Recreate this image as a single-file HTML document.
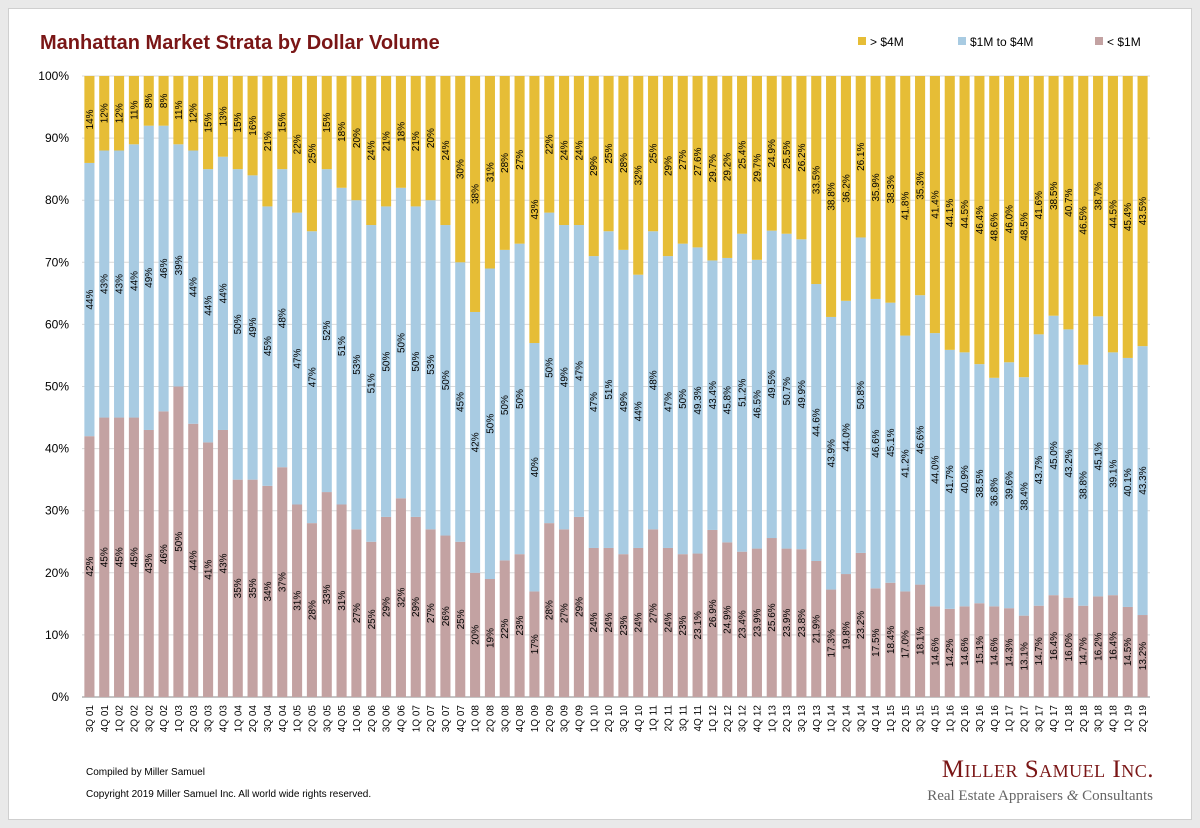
<!DOCTYPE html>
<html><head><meta charset="utf-8">
<style>
html,body{margin:0;padding:0;background:#e9e9e9;}
#card{position:absolute;left:8px;top:8px;width:1182px;height:810px;background:#fff;border:1px solid #cfcfcf;}
svg{position:absolute;left:0;top:0;}
text{font-family:"Liberation Sans",Arial,sans-serif;}
</style></head>
<body>
<div id="card"></div>
<svg id="chart" width="1200" height="828">
<text x="40" y="49" font-size="20" font-weight="bold" fill="#7a1616">Manhattan Market Strata by Dollar Volume</text>
<g>
<rect x="858" y="37" width="8" height="8" fill="#e6bd36"/>
<text x="870" y="46" font-size="12">&gt; $4M</text>
<rect x="958" y="37" width="8" height="8" fill="#a8cbe2"/>
<text x="970" y="46" font-size="12">$1M to $4M</text>
<rect x="1095" y="37" width="8" height="8" fill="#c3a2a2"/>
<text x="1107" y="46" font-size="12">&lt; $1M</text>
</g>
<g id="grid"></g><g id="bars"></g><g id="labels"></g><g id="axes"></g>
<text x="86" y="775" font-size="10">Compiled by Miller Samuel</text>
<text x="86" y="797" font-size="10">Copyright 2019 Miller Samuel Inc.  All world wide rights reserved.</text>
<text x="1154" y="777" text-anchor="end" font-size="25" fill="#7a1616" style="font-family:'Liberation Serif',serif;font-variant:small-caps;letter-spacing:0.5px">Miller Samuel Inc.</text>
<text x="1153" y="800" text-anchor="end" font-size="15" fill="#666" style="font-family:'Liberation Serif',serif">Real Estate Appraisers <tspan font-style="italic">&amp;</tspan> Consultants</text>
</svg>
<script>
const quarters=["3Q 01","4Q 01","1Q 02","2Q 02","3Q 02","4Q 02","1Q 03","2Q 03","3Q 03","4Q 03","1Q 04","2Q 04","3Q 04","4Q 04","1Q 05","2Q 05","3Q 05","4Q 05","1Q 06","2Q 06","3Q 06","4Q 06","1Q 07","2Q 07","3Q 07","4Q 07","1Q 08","2Q 08","3Q 08","4Q 08","1Q 09","2Q 09","3Q 09","4Q 09","1Q 10","2Q 10","3Q 10","4Q 10","1Q 11","2Q 11","3Q 11","4Q 11","1Q 12","2Q 12","3Q 12","4Q 12","1Q 13","2Q 13","3Q 13","4Q 13","1Q 14","2Q 14","3Q 14","4Q 14","1Q 15","2Q 15","3Q 15","4Q 15","1Q 16","2Q 16","3Q 16","4Q 16","1Q 17","2Q 17","3Q 17","4Q 17","1Q 18","2Q 18","3Q 18","4Q 18","1Q 19","2Q 19"];
const under1m=[42,45,45,45,43,46,50,44,41,43,35,35,34,37,31,28,33,31,27,25,29,32,29,27,26,25,20,19,22,23,17,28,27,29,24,24,23,24,27,24,23,23.1,26.9,24.9,23.4,23.9,25.6,23.9,23.8,21.9,17.3,19.8,23.2,17.5,18.4,17.0,18.1,14.6,14.2,14.6,15.1,14.6,14.3,13.1,14.7,16.4,16.0,14.7,16.2,16.4,14.5,13.2];
const mid1to4m=[44,43,43,44,49,46,39,44,44,44,50,49,45,48,47,47,52,51,53,51,50,50,50,53,50,45,42,50,50,50,40,50,49,47,47,51,49,44,48,47,50,49.3,43.4,45.8,51.2,46.5,49.5,50.7,49.9,44.6,43.9,44.0,50.8,46.6,45.1,41.2,46.6,44.0,41.7,40.9,38.5,36.8,39.6,38.4,43.7,45.0,43.2,38.8,45.1,39.1,40.1,43.3];
const over4m=[14,12,12,11,8,8,11,12,15,13,15,16,21,15,22,25,15,18,20,24,21,18,21,20,24,30,38,31,28,27,43,22,24,24,29,25,28,32,25,29,27,27.6,29.7,29.2,25.4,29.7,24.9,25.5,26.2,33.5,38.8,36.2,26.1,35.9,38.3,41.8,35.3,41.4,44.1,44.5,46.4,48.6,46.0,48.5,41.6,38.5,40.7,46.5,38.7,44.5,45.4,43.5];
const yTicks=[0,10,20,30,40,50,60,70,80,90,100];
const decimalFrom=41;

const NS="http://www.w3.org/2000/svg";
const X0=82,X1=1150,Y0=697,Y1=76;
const step=(X1-X0)/quarters.length, bw=step*0.68;
const y=v=>Y0-(v/100)*(Y0-Y1);
const x=i=>X0+i*step+(step-bw)/2;
function mk(t,a,p){const e=document.createElementNS(NS,t);for(const k in a)e.setAttribute(k,a[k]);p.appendChild(e);return e;}
const grid=document.getElementById('grid'),bars=document.getElementById('bars'),labels=document.getElementById('labels'),axes=document.getElementById('axes');
yTicks.forEach(t=>{
  const l=mk('line',{x1:X0,x2:X1,y1:y(t),y2:y(t),stroke:t===0?'#888':'#d9d9d9','stroke-width':1},grid);
  
  
  const tx=mk('text',{x:X0-13,y:y(t)+4,'text-anchor':'end','font-size':12},axes);
  tx.textContent=t+'%';
  
  
});
const series=[[under1m,'#c3a2a2','under-1m'],[mid1to4m,'#a8cbe2','1m-4m'],[over4m,'#e6bd36','over-4m']];
quarters.forEach((q,i)=>{
  let base=0;
  series.forEach(([arr,col,nm],s)=>{
    const v=arr[i];
    let top=base+v; if(s===2) top=100;
    const r=mk('rect',{x:x(i),y:y(top),width:bw,height:Math.max(0,y(base)-y(top)),fill:col},bars);
    
    
    const cy=(y(base)+y(top))/2, cx=x(i)+bw/2+3.5;
    const lab=i>=decimalFrom?v.toFixed(1)+'%':v+'%';
    const t=mk('text',{x:cx,y:cy,'text-anchor':'middle','font-size':10,transform:`rotate(-90 ${cx} ${cy})`},labels);
    t.textContent=lab;
    
    
    base+=v;
  });
  const lx=x(i)+bw/2+3.5, ly=Y0+8;
  const t=mk('text',{x:lx,y:ly,'text-anchor':'end','font-size':10,transform:`rotate(-90 ${lx} ${ly})`},axes);
  t.textContent=q;
  
  
});
</script>
</body></html>
